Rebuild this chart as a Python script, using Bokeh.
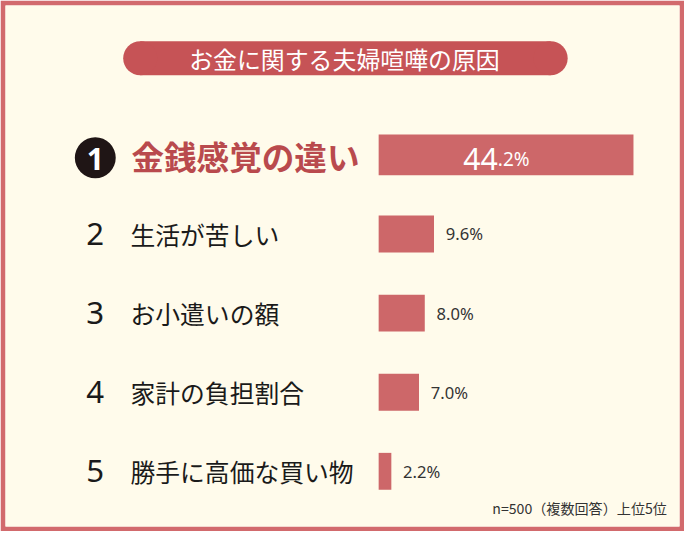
from bokeh.plotting import figure
from bokeh.models import Range1d
from bokeh.core.properties import value
from bokeh.embed import file_html
from bokeh.resources import INLINE

# ---------------- data ----------------
title = "お金に関する夫婦喧嘩の原因"
ranks = [1, 2, 3, 4, 5]
categories = ["金銭感覚の違い", "生活が苦しい", "お小遣いの額", "家計の負担割合", "勝手に高価な買い物"]
values = [44.2, 9.6, 8.0, 7.0, 2.2]
note = "n=500（複数回答）上位5位"

# ---------------- layout ----------------
W, H = 684, 531
SX, SY = W / 700, H / 547
S = (SX + SY) / 2
B = 5  # border thickness (px)

BAR_X0 = 387 * SX          # screen px where value 0 sits
K = 5.9 * SX               # px per percent
ROW1_Y = 159 * SY          # screen px (from top) of row 1 centre
ROW_D = 81.5 * SY          # px between rows

def X(rx):
    return (rx * SX - BAR_X0) / K

def Y(ry):
    return 1 + (ry * SY - ROW1_Y) / ROW_D

JP = "Noto Sans CJK JP"
BG = "#fffbeb"
PINK = "#d26a6d"
BAR = "#cd6769"
PILL = "#c65356"
RED = "#b94a4d"
INK = "#1a1a1a"

p = figure(width=W, height=H, output_backend="svg", toolbar_location=None,
           x_axis_location=None, y_axis_location=None,
           x_range=Range1d((B - BAR_X0) / K, (W - B - BAR_X0) / K),
           y_range=Range1d(1 + (H - B - ROW1_Y) / ROW_D, 1 + (B - ROW1_Y) / ROW_D),
           min_border=B, border_fill_color=PINK, background_fill_color=BG,
           outline_line_color=None)
p.grid.visible = False

# ---- title pill ----
p.quad(left=[X(143)], right=[X(563)], top=[Y(42)], bottom=[Y(77)],
       fill_color=PILL, line_color=None)
p.scatter(x=[X(143), X(563)], y=[Y(59.5), Y(59.5)], size=35 * S, marker="circle",
          fill_color=PILL, line_color=None)
p.text(x=[X(352)], y=[Y(59.5)], text=[title], text_font=value(JP), text_color="white",
       text_font_size=f"{24.5 * S:.1f}px", text_align="center", text_baseline="middle")

# ---- bars ----
heights = [42 / 81.5 if r == 1 else 38 / 81.5 for r in ranks]
p.hbar(y=ranks, left=0, right=values, height=heights, fill_color=BAR, line_color=None)

# ---- rank 1 ----
p.scatter(x=[X(97)], y=[Y(162)], size=42 * S, marker="circle",
          fill_color="#1f1515", line_color=None)
p.text(x=[X(97)], y=[Y(163)], text=[str(ranks[0])], text_font=value("Noto Sans"),
       text_font_style="bold", text_color="white", text_font_size=f"{31 * S:.1f}px",
       text_align="center", text_baseline="middle")
p.text(x=[X(134)], y=[Y(160)], text=[categories[0]], text_font=value(JP),
       text_font_style="bold", text_color=RED, text_font_size=f"{33.5 * S:.1f}px",
       text_align="left", text_baseline="middle")

# value inside bar 1: big integer part + small decimal part
v1 = f"{values[0]:.1f}%"
ip, dp = v1.split(".")
p.text(x=[X(509)], y=[Y(163)], text=[ip], text_font=value("Noto Sans"),
       text_color="white", text_font_size=f"{31 * S:.1f}px",
       text_align="right", text_baseline="alphabetic")
p.text(x=[X(509)], y=[Y(163)], text=["." + dp], text_font=value("Noto Sans"),
       text_color="white", text_font_size=f"{19.5 * S:.1f}px",
       text_align="left", text_baseline="alphabetic")

# ---- ranks 2-5 ----
p.text(x=[X(97)] * 4, y=ranks[1:], text=[str(r) for r in ranks[1:]],
       text_font=value("Noto Sans"), text_color=INK, text_font_size=f"{32 * S:.1f}px",
       text_align="center", text_baseline="middle")
p.text(x=[X(133)] * 4, y=ranks[1:], text=categories[1:], text_font=value(JP),
       text_color=INK, text_font_size=f"{25.5 * S:.1f}px",
       text_align="left", text_baseline="middle")
off = 12 * SX / K
p.text(x=[v + off for v in values[1:]], y=ranks[1:],
       text=[f"{v:.1f}%" for v in values[1:]], text_font=value("Noto Sans"),
       text_color="#333333", text_font_size=f"{17 * S:.1f}px",
       text_align="left", text_baseline="middle")

# ---- footnote ----
p.text(x=[X(682)], y=[Y(523)], text=[note], text_font=value(JP), text_color="#333333",
       text_font_size=f"{14.5 * S:.1f}px", text_align="right", text_baseline="middle")

open("out.html", "w").write(file_html(p, INLINE))
